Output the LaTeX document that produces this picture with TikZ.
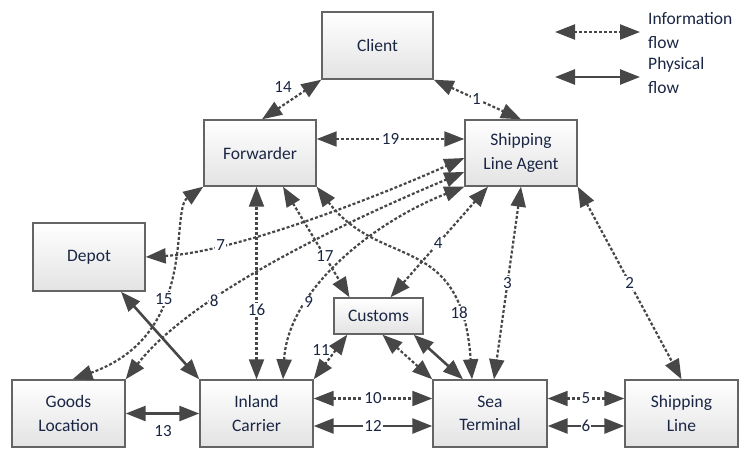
\documentclass[tikz,border=0pt]{standalone}
\usepackage{fontspec}
\setmainfont{Carlito}
\usetikzlibrary{arrows.meta}

\definecolor{ink}{HTML}{1A2644}
\definecolor{wire}{HTML}{474747}
\definecolor{frame}{HTML}{646464}

\tikzset{
  head/.tip={Triangle[length=20pt,width=15pt]},
  box/.style={draw=frame, line width=1.4pt, top color=white, bottom color=black!11,
    inner sep=0pt, align=center, text=ink, font=\fontsize{17.5}{23.5}\selectfont,
    minimum width=112pt, minimum height=67pt},
  info/.style={draw=wire, line width=2.2pt, dash pattern=on 3pt off 2pt, head-head},
  phys/.style={draw=wire, line width=2.6pt, head-head},
  lbl/.style={fill=white, inner sep=1pt, text=ink, font=\fontsize{17}{20}\selectfont},
  legendtext/.style={align=left, anchor=west, inner sep=0pt, text=ink,
    font=\fontsize{17.5}{24}\selectfont},
}

\begin{document}
\begin{tikzpicture}[x=1pt,y=-1pt]
\useasboundingbox (0,0) rectangle (740,448);

% actors
\node[box, minimum width=111pt] (client) at (377.5,45.5) {Client};
\node[box, minimum height=66pt] (fwd) at (260,153) {Forwarder};
\node[box, minimum height=66pt] (sla) at (521,153) {Shipping\\Line Agent};
\node[box, minimum height=68pt] (depot) at (89,257) {Depot};
\node[box, minimum width=89pt, minimum height=36pt] (customs) at (378.5,316) {Customs};
\node[box, minimum width=113pt] (goods) at (68.5,413.5) {Goods\\Location};
\node[box, minimum width=113pt] (inland) at (256.5,413.5) {Inland\\Carrier};
\node[box, minimum width=114pt] (sea) at (490,413.5) {Sea\\Terminal};
\node[box, minimum width=113pt] (line) at (681.5,413.5) {Shipping\\Line};

% information flows
\draw[info] ([xshift=2pt]fwd.north) -- (client.south west);
\node[lbl, fill=none] (l14) at (283,87) {14};
\draw[info] (client.south east) -- (sla.north) node[lbl, pos=.49] (l1) {1};
\draw[info] ([yshift=14pt]fwd.east) -- ([yshift=14pt]sla.west) node[lbl, pos=.5] (l19) {19};
\draw[info] (depot.east) .. controls +(90,-5) and +(-90,40) .. ([yshift=-5pt]sla.west)
  node[lbl, pos=.25] (l7) {7};
\draw[info] (goods.north east) .. controls +(70,-90) and +(-100,42) .. ([yshift=-19pt]sla.west)
  node[lbl, pos=.31] (l8) {8};
\draw[info] ([xshift=26.5pt]inland.north) .. controls +(5,-90) and +(-90,35) .. (sla.south west)
  node[lbl, pos=.31] (l9) {9};
\draw[info] ([xshift=4pt]goods.north) .. controls +(127.5,-45) and +(-34,24) .. (fwd.south west)
  node[lbl, pos=.4] (l15) {15};
\draw[info] (inland.north) -- (inland.north |- fwd.south) node[lbl, pos=.36] (l16) {16};
\draw[info] ([xshift=23pt]fwd.south) -- ([xshift=-29pt]customs.north) node[lbl, pos=.63] (l17) {17};
\draw[info] (fwd.south east) .. controls +(64,84) and +(-10,-149) .. ([xshift=-18pt]sea.north)
  node[lbl, pos=.81] (l18) {18};
\draw[info] ([xshift=-33pt]sla.south) -- ([xshift=12pt]customs.north) node[lbl, pos=.51] (l4) {4};
\draw[info] (sla.south) -- ([xshift=4pt]sea.north) node[lbl, pos=.5] (l3) {3};
\draw[info] (sla.south east) -- (line.north) node[lbl, pos=.5] (l2) {2};
\draw[info] ([xshift=14pt]customs.south west) -- (inland.north east);
\node[lbl, fill=none] (l11) at (321,350) {11};
\draw[info] ([xshift=4pt]customs.south) -- (sea.north west);
\draw[info] ([yshift=15pt]inland.east) -- ([yshift=15pt]sea.west) node[lbl, pos=.5] (l10) {10};
\draw[info] ([yshift=15pt]sea.east) -- ([yshift=15pt]line.west) node[lbl, pos=.5] (l5) {5};

% physical flows
\draw[phys] ([xshift=-10pt]customs.south east) -- ([xshift=-27pt]sea.north);
\draw[phys] ([xshift=32pt]depot.south) -- (inland.north west);
\draw[phys] (goods.east) -- (inland.west);
\node[lbl, fill=none] (l13) at (163,431) {13};
\draw[phys] ([yshift=-12.5pt]inland.east) -- ([yshift=-12.5pt]sea.west) node[lbl, pos=.5] (l12) {12};
\draw[phys] ([yshift=-12.5pt]sea.east) -- ([yshift=-12.5pt]line.west) node[lbl, pos=.5] (l6) {6};

% legend
\coordinate (iL) at (555,32);
\coordinate (iR) at (640,32);
\coordinate (pL) at (555,77);
\coordinate (pR) at (640,77);
\draw[info] (iL) -- (iR);
\draw[phys] (pL) -- (pR);
\node[legendtext] (tinfo) at (648,30.5) {Information\\flow};
\node[legendtext] (tphys) at (648,75) {Physical\\flow};
\end{tikzpicture}
\end{document}
